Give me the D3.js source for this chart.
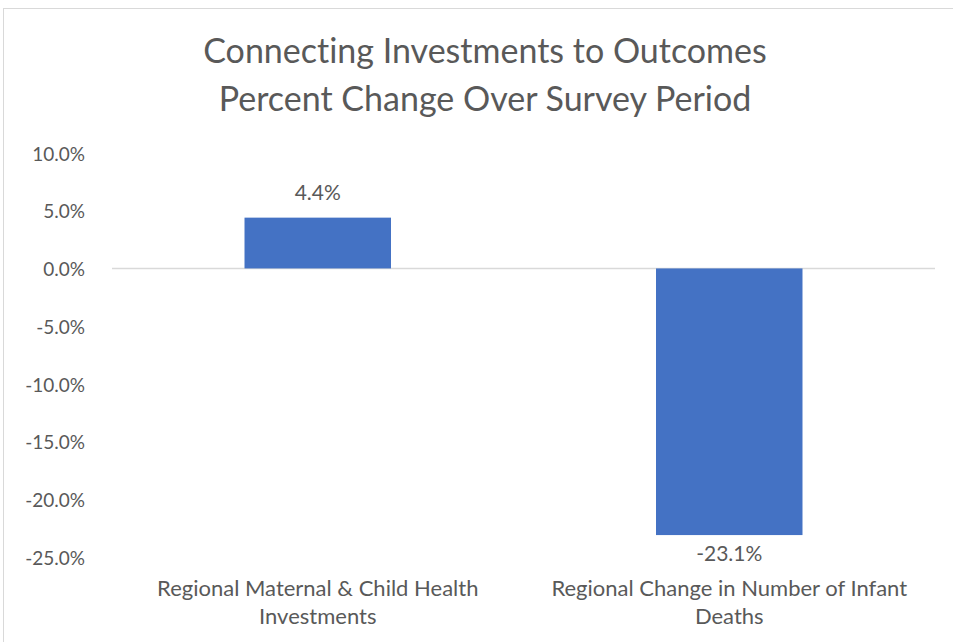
<!DOCTYPE html>
<html><head><meta charset="utf-8">
<script src="https://cdn.jsdelivr.net/npm/d3@7"></script>
<style>body{margin:0;background:#fff;} text{font-family:Lato, "Open Sans", sans-serif; fill:#595959; font-variant-ligatures:none; font-feature-settings:"liga" 0, "clig" 0;}</style>
</head><body>
<svg id="c" width="953" height="642"></svg>
<script>
const titleLines = ["Connecting Investments to Outcomes", "Percent Change Over Survey Period"];
const categories = [["Regional Maternal & Child Health", "Investments"], ["Regional Change in Number of Infant", "Deaths"]];
const values = [4.4, -23.1];
const yTicks = [10, 5, 0, -5, -10, -15, -20, -25];

const pct = d3.formatLocale({decimal: ".", thousands: ",", grouping: [3], currency: ["", ""], minus: "-"}).format(".1f");
const fmt = d => pct(d) + "%";

const svg = d3.select("#c");
svg.append("rect").attr("x", 3.5).attr("y", 8.5).attr("width", 960).attr("height", 650)
  .attr("fill", "#fff").attr("stroke", "#d9d9d9").attr("stroke-width", 1);

const x = d3.scaleBand().domain(d3.range(categories.length)).range([112, 935]).paddingInner(0.644).paddingOuter(0.322);
const y = d3.scaleLinear().domain([-25, 10]).range([557, 153]);

const tg = svg.append("g");
titleLines.forEach((t, i) => tg.append("text").attr("x", 485).attr("y", 63 + i * 48)
  .attr("text-anchor", "middle").style("font-size", "34px").text(t));

const yAxis = svg.append("g").attr("transform", "translate(88,0)")
  .call(d3.axisLeft(y).tickValues(yTicks).tickSize(0).tickFormat(fmt));
yAxis.select(".domain").remove();
yAxis.selectAll("text").style("font-size", "19px").attr("fill", "#595959").attr("dy", "0.38em");

svg.append("line").attr("x1", 112).attr("x2", 935).attr("y1", y(0)).attr("y2", y(0))
  .attr("stroke", "#d9d9d9").attr("stroke-width", 1.5);

svg.selectAll(".bar").data(values).join("rect").attr("class", "bar")
  .attr("x", (d, i) => x(i)).attr("width", x.bandwidth())
  .attr("y", d => y(Math.max(0, d))).attr("height", d => Math.abs(y(d) - y(0)))
  .attr("fill", "#4472c4");

svg.selectAll(".vl").data(values).join("text").attr("class", "vl")
  .attr("x", (d, i) => x(i) + x.bandwidth() / 2)
  .attr("y", d => d >= 0 ? y(d) - 18 : y(d) + 26)
  .attr("text-anchor", "middle").style("font-size", "21px")
  .text(fmt);

const cg = svg.append("g");
categories.forEach((lines, i) => {
  lines.forEach((l, j) => cg.append("text")
    .attr("x", x(i) + x.bandwidth() / 2).attr("y", 596 + j * 28)
    .attr("text-anchor", "middle").style("font-size", "22px").text(l));
});
</script>
</body></html>
